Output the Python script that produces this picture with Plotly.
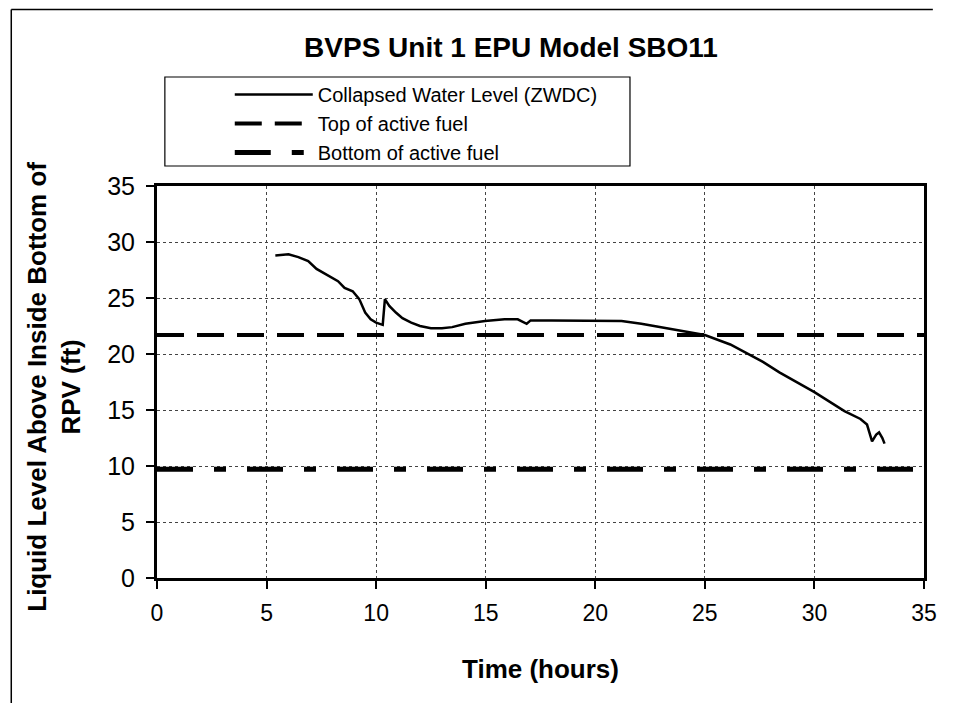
import plotly.graph_objects as go

# ---- data ----
time_h = [5.4, 6.0, 6.45, 6.9, 7.28, 7.8, 8.26, 8.56, 8.93, 9.23, 9.5, 9.75, 10.0, 10.3,
          10.4, 10.6, 10.9, 11.2, 11.6, 12.0, 12.5, 13.0, 13.47, 14.07, 14.97, 15.86,
          16.46, 16.87, 17.05, 18.0, 19.4, 20.3, 21.2, 22.1, 23.3, 24.2, 25.0, 26.16,
          27.65, 28.4, 30.0, 31.37, 32.1, 32.4, 32.63, 32.82, 32.95, 33.1, 33.2]
level_ft = [28.8, 28.9, 28.65, 28.3, 27.6, 27.0, 26.5, 25.9, 25.6, 24.9, 23.7, 23.1, 22.8, 22.6,
            24.9, 24.3, 23.7, 23.2, 22.8, 22.5, 22.3, 22.3, 22.4, 22.7, 22.95, 23.1,
            23.1, 22.7, 23.0, 23.0, 23.0, 23.0, 22.95, 22.7, 22.3, 22.0, 21.7, 20.85,
            19.3, 18.36, 16.6, 14.9, 14.2, 13.7, 12.2, 12.8, 13.0, 12.5, 12.0]
ref_time = [0, 35]
taf_level = [21.7, 21.7]
boaf_level = [9.7, 9.7]
x_ticks = [0, 5, 10, 15, 20, 25, 30, 35]
y_ticks = [0, 5, 10, 15, 20, 25, 30, 35]

FONT = "Arial, Liberation Sans, sans-serif"

fig = go.Figure()
fig.add_trace(go.Scatter(x=time_h, y=level_ft, mode="lines",
                         name="Collapsed Water Level (ZWDC)",
                         line=dict(color="black", width=2.5)))
fig.add_trace(go.Scatter(x=ref_time, y=taf_level, mode="lines",
                         name="Top of active fuel",
                         line=dict(color="black", width=4, dash="27px,13px")))
fig.add_trace(go.Scatter(x=ref_time, y=boaf_level, mode="lines",
                         name="Bottom of active fuel",
                         line=dict(color="black", width=5, dash="36px,21px,12px,21px")))

# page has an 8px body margin, so the figure is made smaller than the window
OFF = 8
W, H = 940, 695
L, R, T, B = 149, 11, 178, 125
pw, ph = W - L - R, H - T - B

def px(xs):  # screen x -> paper
    return (xs - OFF - L) / pw

def py(ys):  # screen y -> paper
    return (H - B - (ys - OFF)) / ph

fig.update_layout(
    width=W, height=H,
    margin=dict(l=L, r=R, t=T, b=B),
    paper_bgcolor="white", plot_bgcolor="white",
    font=dict(family=FONT, color="black"),
    title=dict(text="<b>BVPS Unit 1 EPU Model SBO11</b>",
               x=px(517), xref="paper", xanchor="center",
               y=1 - (47 - OFF) / H, yanchor="middle",
               font=dict(size=28, family=FONT, color="black")),
    showlegend=True,
    legend=dict(x=px(231), y=py(75), xanchor="left", yanchor="top",
                bgcolor="rgba(0,0,0,0)", borderwidth=0,
                font=dict(size=20, family=FONT, color="black"),
                itemwidth=78, tracegroupgap=0),
    xaxis=dict(range=[0, 35], tickvals=x_ticks, showgrid=True,
               gridcolor="#444", griddash="dot", gridwidth=1,
               showline=True, linecolor="black", linewidth=3, mirror=True,
               ticks="outside", ticklen=8, tickwidth=1.5, tickcolor="black",
               ticklabelstandoff=4,
               tickfont=dict(size=23, family=FONT, color="black"),
               zeroline=False,
               title=dict(text="<b>Time (hours)</b>", standoff=36,
                          font=dict(size=26, family=FONT, color="black"))),
    yaxis=dict(range=[0, 35], tickvals=y_ticks, showgrid=True,
               gridcolor="#444", griddash="dot", gridwidth=1,
               showline=True, linecolor="black", linewidth=3, mirror=True,
               ticks="outside", ticklen=8, tickwidth=1.5, tickcolor="black",
               ticklabelstandoff=6,
               tickfont=dict(size=25, family=FONT, color="black"),
               zeroline=False),
    shapes=[
        # legend box
        dict(type="rect", xref="paper", yref="paper",
             x0=px(165), x1=px(638), y0=py(166), y1=py(77),
             line=dict(color="black", width=1.2)),
        # outer frame (top and left edges)
        dict(type="line", xref="paper", yref="paper",
             x0=px(8.8), x1=px(OFF + W - 2), y0=py(9.5), y1=py(9.5),
             line=dict(color="black", width=1.5)),
        dict(type="line", xref="paper", yref="paper",
             x0=px(8.8), x1=px(8.8), y0=py(9.5), y1=py(OFF + H),
             line=dict(color="black", width=1.5)),
    ],
    annotations=[
        dict(text="<b>Liquid Level Above Inside Bottom of<br>RPV (ft)</b>",
             xref="paper", yref="paper", x=px(52), y=py(387),
             xanchor="center", yanchor="middle", textangle=-90, showarrow=False,
             font=dict(size=26, family=FONT, color="black")),
    ],
)

fig.write_html("out.html", config={"displayModeBar": False})
